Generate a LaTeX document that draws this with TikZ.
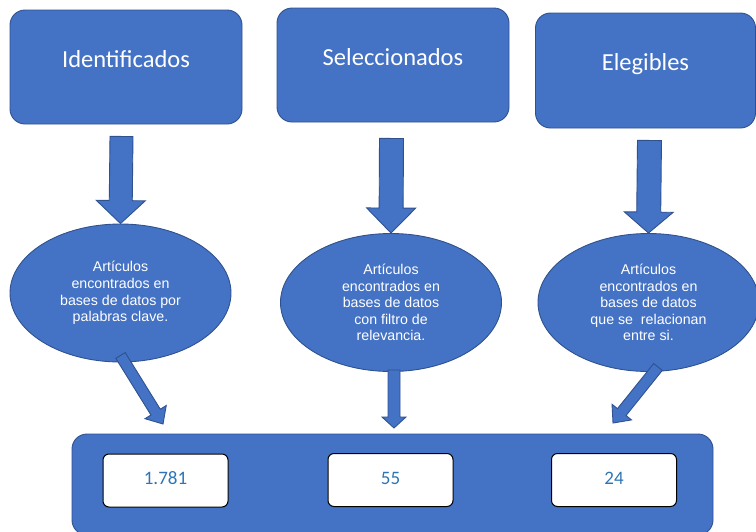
\documentclass[tikz,border=0pt]{standalone}
\usepackage{fontspec}
\setmainfont{Carlito}
\newfontfamily\arialfont{Liberation Sans}
\usetikzlibrary{shapes.geometric,calc}

\definecolor{boxblue}{HTML}{4472C4}
\definecolor{edgeblue}{HTML}{2F528F}
\definecolor{numblue}{HTML}{2E75B6}

\tikzset{
  topbox/.style={draw=edgeblue,fill=boxblue,line width=0.9pt,rounded corners=15pt,
    text=white,font=\fontsize{24.5}{28}\selectfont,text height=17pt,text depth=17pt},
  bubble/.style={draw=edgeblue,fill=boxblue,line width=0.9pt,ellipse,inner sep=0pt,
    minimum width=221pt,minimum height=138pt,text=white,align=center,
    font=\arialfont\fontsize{14.2}{16.6}\selectfont},
  numbox/.style={draw=black,fill=white,line width=1pt,rounded corners=6pt,
    minimum width=125pt,minimum height=53pt,text=numblue,
    font=\fontsize{19}{22}\selectfont,text height=13pt,text depth=5pt},
  blockarr/.style={draw=edgeblue,fill=boxblue,line width=0.9pt,line join=miter}
}

% from, to, shaft half width, head half width, head length
\newcommand{\blockarrow}[5]{%
  \coordinate (hb) at ($(#2)!#5!(#1)$);
  \draw[blockarr] ($(#1)!#3!90:(#2)$) -- ($(hb)!#3!-90:(#1)$) -- ($(hb)!#4!-90:(#1)$)
    -- (#2) -- ($(hb)!#4!90:(#1)$) -- ($(hb)!#3!90:(#1)$) -- ($(#1)!#3!-90:(#2)$) -- cycle;
}

\begin{document}
\begin{tikzpicture}[x=1pt,y=-1pt]
  \useasboundingbox (0,0) rectangle (756,531);

  % top row
  \node[topbox,minimum width=232pt,minimum height=114pt] (ident) at (126,67) {Identificados};
  \node[topbox,minimum width=232pt,minimum height=114pt] (selec) at (393,65) {Seleccionados};
  \node[topbox,minimum width=220pt,minimum height=115pt] (eleg) at (645.5,70.5) {Elegibles};

  % middle row
  \node[bubble] (elli1) at (120.5,293) {Artículos\\encontrados en\\bases de datos por\\palabras clave.};
  \node[bubble] (elli2) at (391,302.5) {Artículos\\encontrados en\\bases de datos\\con filtro de\\relevancia.};
  \node[bubble] (elli3) at (648.5,302.5) {Artículos\\encontrados en\\bases de datos\\que se\ \ relacionan\\entre si.};

  % bottom row
  \draw[draw=edgeblue,fill=boxblue,line width=0.9pt,rounded corners=15pt] (72,434) rectangle (713,535);
  \node[numbox] (n1) at (165.5,480.5) {1.781};
  \node[numbox] (n2) at (390.5,480) {55};
  \node[numbox] (n3) at (614,480) {24};

  % arrows
  \coordinate (s1) at ($(ident.south)+(-4.5,12)$);
  \coordinate (s2) at ($(selec.south)+(-1.5,16)$);
  \coordinate (s3) at ($(eleg.south)+(4,12)$);
  \blockarrow{s1}{elli1.north}{11.5pt}{24.5pt}{23pt}
  \blockarrow{s2}{elli2.north}{12pt}{24.5pt}{25pt}
  \blockarrow{s3}{elli3.north}{12pt}{24.5pt}{21pt}

  \coordinate (t1) at (163,424);
  \coordinate (t2) at (394,428);
  \coordinate (t3) at (613,423);
  \coordinate (u1) at ($(elli1.south)+(0,-7)$);
  \coordinate (u2) at ($(elli2.south)+(3,-2)$);
  \coordinate (u3) at ($(elli3.south)+(9.5,-5)$);
  \blockarrow{u1}{t1}{5.5pt}{12.5pt}{14pt}
  \blockarrow{u2}{t2}{6pt}{12pt}{11pt}
  \blockarrow{u3}{t3}{5.5pt}{12.5pt}{14pt}
\end{tikzpicture}
\end{document}
